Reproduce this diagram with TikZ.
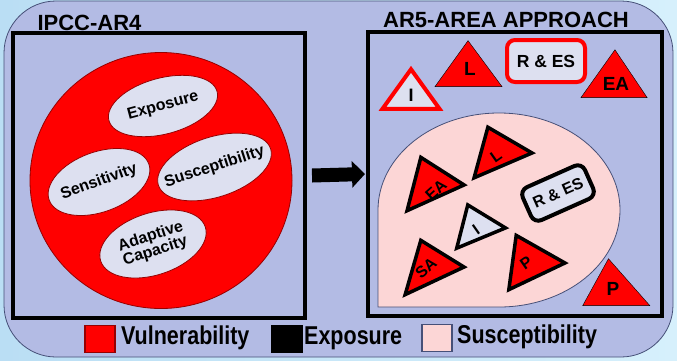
\documentclass[tikz,border=0pt]{standalone}
\usepackage{fontspec}
\setmainfont{Liberation Sans}
\usepackage{graphicx}
\usetikzlibrary{calc,shapes.geometric,arrows.meta}
\definecolor{bgA}{RGB}{186,222,244}
\definecolor{bgB}{RGB}{214,240,252}
\definecolor{lav}{RGB}{179,187,228}
\definecolor{edgec}{RGB}{70,80,120}
\definecolor{ellf}{RGB}{221,224,240}
\definecolor{vred}{RGB}{255,0,0}
\definecolor{dkred}{RGB}{150,0,0}
\definecolor{pinkf}{RGB}{252,214,214}
\newcommand\mytri[4]{%
  \coordinate (tc) at ($1/3*(#2)+1/3*(#3)+1/3*(#4)$);
  \draw[#1] ($(tc)!0.92!(#2)$) -- ($(tc)!0.92!(#3)$) -- ($(tc)!0.92!(#4)$) -- cycle;}
\begin{document}
\begin{tikzpicture}[x=1pt,y=-1pt,
  lbl/.style={inner sep=0pt, font=\fontsize{#1}{#1}\selectfont\bfseries},
  frame/.style={draw=black, line width=4pt, fill=lav, inner sep=0pt},
  ellsh/.style={ellipse, draw=dkred, line width=0.8pt, fill=ellf, inner sep=0pt},
  redtri/.style={fill=vred},
  blktri/.style={fill=vred, draw=black, line width=3.5pt, line join=miter},
  lighttri/.style={fill=ellf, draw=black, line width=3.5pt, line join=miter},
  redbord/.style={fill=ellf, draw=vred, line width=4pt, line join=miter},
  legsq/.style={minimum width=30pt, minimum height=27pt, inner sep=0pt, line width=1.2pt}
]
\useasboundingbox (0,0) rectangle (677,360);
\shade[left color=bgA, right color=bgB] (0,0) rectangle (677,360);
\draw[draw=edgec, fill=lav, line width=0.8pt, rounded corners=52pt] (4,1) rectangle (673,357);

% titles
\node[lbl=22] (t1) at (89.5,22.5) {IPCC-AR4};
\node[lbl=22] (t2) at (506,20) {AR5-AREA APPROACH};

% boxes
\node[frame, minimum width=292pt, minimum height=285pt] (lb) at (159,175.5) {};
\node[frame, minimum width=294pt, minimum height=284pt] (rb) at (515,174) {};

% left: vulnerability circle
\node[ellipse, draw=dkred, line width=0.8pt, fill=vred, minimum width=262pt, minimum height=256pt, inner sep=0pt] (vc) at (161,180.5) {};
\node[ellsh, minimum width=112pt, minimum height=56pt, rotate=15] (e1) at (163,106) {};
\node[lbl=16, rotate=15] (e1t) at (e1) {Exposure};
\node[ellsh, minimum width=106pt, minimum height=60pt, rotate=20] (e2) at (99,182) {};
\node[lbl=16, rotate=20] (e2t) at (e2) {Sensitivity};
\node[ellsh, minimum width=118pt, minimum height=60pt, rotate=18] (e3) at (214.5,167) {};
\node[lbl=16, rotate=18] (e3t) at (e3) {Susceptibility};
\node[ellsh, minimum width=110pt, minimum height=62pt, rotate=18] (e4) at (153,244) {};
\node[lbl=16, rotate=18, align=center] (e4t) at (e4) {Adaptive\\[-1pt]Capacity};

% arrow
\draw[line width=14pt, -{Triangle[length=13pt, width=26pt]}] ($(lb.east)+(5,0)$) -- ($(rb.west)+(-1,0)$);

% right: top items
\mytri{redbord}{380,110}{442,110}{411,67}
\node[lbl=18] (ti) at (411,95) {I};
\mytri{redtri}{432,88}{505,88}{468,38}
\node[lbl=19] (tl) at (470,69) {L};
\node[draw=vred, fill=ellf, line width=4pt, rounded corners=8pt, minimum width=78pt, minimum height=42pt, inner sep=0pt] (rt) at (546,61) {};
\node[lbl=17.5] (rtt) at (rt) {R \& ES};
\mytri{redtri}{578,99}{650,99}{615,47}
\node[lbl=19] (tea) at (616,84) {EA};

% susceptibility area
\draw[draw=edgec, fill=pinkf, line width=0.8pt] (378,210) arc[start angle=180, end angle=360, x radius=121, y radius=97] arc[start angle=0, end angle=90, x radius=121, y radius=97] -- (378,307) -- cycle;

\mytri{blktri}{420,155}{467,185}{405,213}
\node[lbl=16, rotate=42] (iea) at (436,190) {EA};
\mytri{blktri}{487,125}{535,153}{472,180}
\node[lbl=16, rotate=35] (il) at (496,156) {L};
\node[draw=black, fill=ellf, line width=4pt, rounded corners=8pt, minimum width=68pt, minimum height=36pt, inner sep=0pt, rotate=24] (ir) at (558,193) {};
\node[lbl=16, rotate=24] (irt) at (ir) {R \& ES};
\mytri{lighttri}{467,203}{508,228}{455,250}
\node[lbl=16, rotate=35] (ii) at (476,230) {I};
\mytri{blktri}{420,238}{467,267}{403,297}
\node[lbl=16, rotate=40] (isa) at (426,268) {SA};
\mytri{blktri}{515,233}{568,263}{507,292}
\node[lbl=16, rotate=35] (ip) at (526,263) {P};

\mytri{redtri}{580,307}{653,307}{608,256}
\node[lbl=19] (bp) at (613,289) {P};

% legend
\node[legsq, fill=vred, draw=dkred] (s1) at (100,339) {};
\node[lbl=21.5, anchor=west] (l1) at (121,338) {\scalebox{1}[1.2]{Vulnerability}};
\node[legsq, fill=black, draw=black] (s2) at (287,339) {};
\node[lbl=21.5, anchor=west] (l2) at (304,338) {\scalebox{1}[1.2]{Exposure}};
\node[legsq, fill=pinkf, draw=edgec] (s3) at (437,338) {};
\node[lbl=21.5, anchor=west] (l3) at (457,337) {\scalebox{1}[1.2]{Susceptibility}};
\end{tikzpicture}
\end{document}
